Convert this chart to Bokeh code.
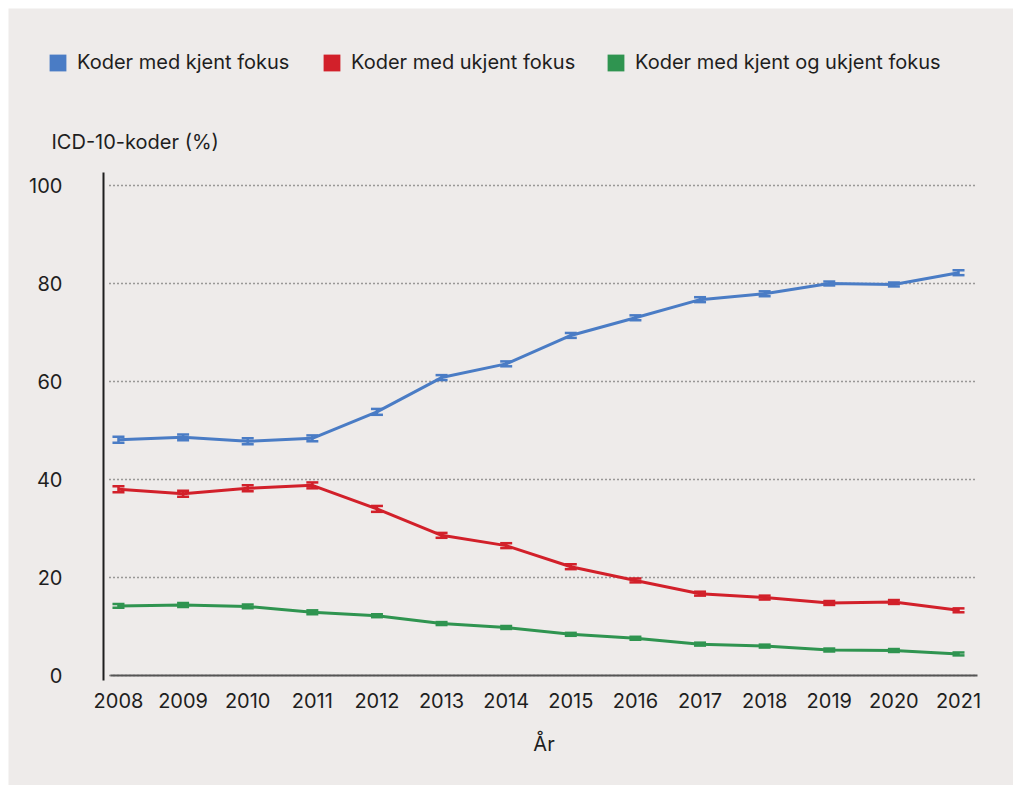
from bokeh.plotting import figure
from bokeh.models import (ColumnDataSource, Range1d, Whisker, TeeHead, Legend,
                          LegendItem, Label, FixedTicker, LinearAxis, Grid)
from bokeh.embed import file_html
from bokeh.resources import INLINE

years = [2008, 2009, 2010, 2011, 2012, 2013, 2014, 2015, 2016, 2017, 2018, 2019, 2020, 2021]
kjent = [48.1, 48.6, 47.8, 48.4, 53.8, 60.8, 63.6, 69.4, 73.0, 76.7, 77.9, 80.0, 79.8, 82.2]
kjent_err = [0.6, 0.6, 0.6, 0.6, 0.6, 0.5, 0.5, 0.5, 0.5, 0.5, 0.5, 0.4, 0.4, 0.5]
ukjent = [38.0, 37.1, 38.2, 38.8, 34.0, 28.6, 26.5, 22.2, 19.4, 16.7, 15.9, 14.8, 15.0, 13.3]
ukjent_err = [0.6, 0.6, 0.6, 0.6, 0.6, 0.5, 0.5, 0.5, 0.4, 0.4, 0.4, 0.4, 0.4, 0.4]
begge = [14.2, 14.4, 14.1, 12.9, 12.2, 10.6, 9.8, 8.4, 7.6, 6.4, 6.0, 5.2, 5.1, 4.4]
begge_err = [0.4, 0.4, 0.4, 0.4, 0.3, 0.3, 0.3, 0.3, 0.3, 0.3, 0.3, 0.3, 0.3, 0.3]

series_names = ["Koder med kjent fokus", "Koder med ukjent fokus", "Koder med kjent og ukjent fokus"]
colors = ["#4a7cc5", "#d2202a", "#2f9450"]
y_ticks = [0, 20, 40, 60, 80, 100]
y_title = "ICD-10-koder (%)"
x_title = "År"

BG = "#eeebea"
FONT = "Inter"
TXT = "#1e1e1e"
FS = "20px"

# The frame fills the whole canvas; axes are pinned inside it (fixed_location)
p = figure(width=1005, height=777, output_backend="svg", toolbar_location=None,
           x_range=Range1d(2006.298, 2021.851), y_range=Range1d(-22.45, 136.12),
           x_axis_type=None, y_axis_type=None,
           min_border=0, min_border_left=0, min_border_right=0,
           min_border_top=0, min_border_bottom=0)
p.margin = (8, 0, 0, 8)
p.background_fill_color = BG
p.border_fill_color = BG
p.outline_line_color = None

xticker = FixedTicker(ticks=years)
yticker = FixedTicker(ticks=y_ticks)

xaxis = LinearAxis(ticker=xticker, fixed_location=0, bounds=(2007.876, 2021.294),
                   major_tick_line_color=None, minor_tick_line_color=None,
                   axis_line_color="#555555", axis_line_width=2,
                   major_label_standoff=12, major_label_text_font=FONT,
                   major_label_text_font_size=FS, major_label_text_color=TXT,
                   axis_label=x_title, axis_label_text_font=FONT,
                   axis_label_text_font_size=FS, axis_label_text_font_style="normal",
                   axis_label_text_color=TXT, axis_label_standoff=20)
p.add_layout(xaxis, "below")

yaxis = LinearAxis(ticker=yticker, fixed_location=2007.768, bounds=(-1.0, 102.65),
                   major_tick_line_color=None, minor_tick_line_color=None,
                   axis_line_color="#1e1e1e", axis_line_width=2,
                   major_label_standoff=35, major_label_text_font=FONT,
                   major_label_text_font_size=FS, major_label_text_color=TXT)
p.add_layout(yaxis, "left")

grid = Grid(dimension=1, ticker=yticker, cross_bounds=(2007.86, 2021.29),
            grid_line_color="#444444", grid_line_width=1.5, grid_line_dash="1 3")
p.add_layout(grid)

values = [kjent, ukjent, begge]
errs = [kjent_err, ukjent_err, begge_err]
items = []
for name, vals, err, col in zip(series_names, values, errs, colors):
    src = ColumnDataSource(dict(
        x=years, y=vals,
        lower=[v - e for v, e in zip(vals, err)],
        upper=[v + e for v, e in zip(vals, err)]))
    p.line("x", "y", source=src, line_color=col, line_width=3)
    w = Whisker(source=src, base="x", lower="lower", upper="upper",
                line_color=col, line_width=2.5,
                upper_head=TeeHead(size=12, line_color=col, line_width=2.5),
                lower_head=TeeHead(size=12, line_color=col, line_width=2.5))
    p.add_layout(w)
    # hidden area renderer used only for the square legend swatch
    sw = p.quad(left="x", right="x", top="y", bottom="y", source=src,
                fill_color=col, line_color=None, visible=False)
    items.append(LegendItem(label=name, renderers=[sw]))

# one legend per entry for exact placement (screen px from frame bottom-left)
legend_x = [39, 313, 597]
for item, lx in zip(items, legend_x):
    lg = Legend(items=[item], location=(lx, 711), orientation="horizontal",
                padding=0, margin=0, spacing=0,
                glyph_width=21, glyph_height=21, label_height=21, label_standoff=9,
                label_text_font=FONT, label_text_font_size=FS, label_text_color=TXT,
                border_line_color=None, background_fill_alpha=0)
    p.add_layout(lg, "center")

p.add_layout(Label(x=43, y=644, x_units="screen", y_units="screen", text=y_title,
                   text_font=FONT, text_font_size=FS, text_color=TXT,
                   text_baseline="middle", text_align="left"))

open("out.html", "w").write(file_html(p, INLINE))
